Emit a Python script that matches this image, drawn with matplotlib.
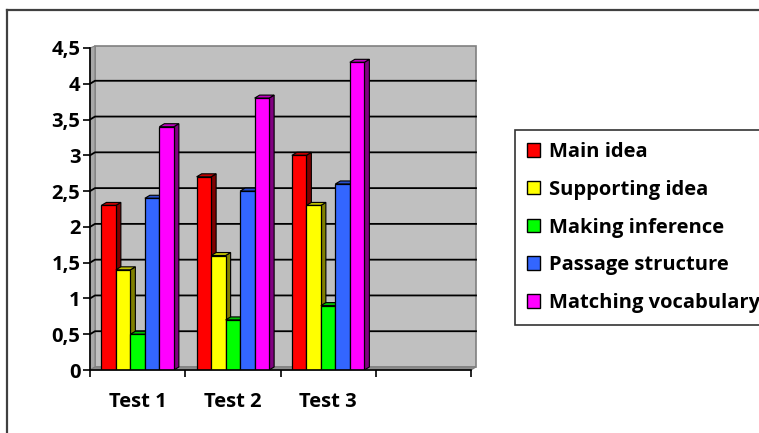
import matplotlib
matplotlib.use("Agg")
import matplotlib.pyplot as plt
from matplotlib.patches import Polygon, Rectangle, Patch
from matplotlib.lines import Line2D
import numpy as np

categories = ["Test 1", "Test 2", "Test 3"]
series_names = ["Main idea", "Supporting idea", "Making inference",
                "Passage structure", "Matching vocabulary"]
main_idea = [2.3, 2.7, 3.0]
supporting_idea = [1.4, 1.6, 2.3]
making_inference = [0.5, 0.7, 0.9]
passage_structure = [2.4, 2.5, 2.6]
matching_vocabulary = [3.4, 3.8, 4.3]
y_ticks = [0, 0.5, 1, 1.5, 2, 2.5, 3, 3.5, 4, 4.5]
y_tick_labels = ["0", "0,5", "1", "1,5", "2", "2,5", "3", "3,5", "4", "4,5"]

series = [main_idea, supporting_idea, making_inference, passage_structure, matching_vocabulary]
front_colors = ["#FF0000", "#FFFF00", "#00FF00", "#3366FF", "#FF00FF"]
side_colors = ["#800000", "#808000", "#008000", "#1F3D99", "#800080"]
top_colors = ["#C00000", "#C0C000", "#00C000", "#2850CC", "#C000C0"]

W, H = 759, 433
fig = plt.figure(figsize=(W / 100, H / 100), dpi=100)
plt.rcParams['font.family'] = ['Open Sans', 'DejaVu Sans']
FS = 14.5

# outer frame (partially visible)
fig.add_artist(Line2D([7 / W, 7 / W], [0, 1 - 10 / H], transform=fig.transFigure,
                      color="#404040", lw=1.6))
fig.add_artist(Line2D([7 / W, 1.0], [1 - 10 / H, 1 - 10 / H], transform=fig.transFigure,
                      color="#404040", lw=1.6))

left, right, bottom, top = 90, 471, 370, 48
ax = fig.add_axes([left / W, (H - bottom) / H, (right - left) / W, (bottom - top) / H])
ax.set_xlim(0, 4)
ax.set_ylim(0, 4.5)
ax.set_facecolor("none")

px_x = 4 / (right - left)
px_y = 4.5 / (bottom - top)
dx, dy = 5 * px_x, 3 * px_y

# walls
ax.add_patch(Rectangle((dx, dy), 4, 4.5 - dy + 2 * px_y, facecolor="#C0C0C0", edgecolor="#808080",
                       lw=1.2, zorder=0, clip_on=False))
ax.add_patch(Polygon([(0, 0), (dx, dy), (dx, 4.5 + 2 * px_y), (0, 4.5)], closed=True,
                     facecolor="#A8A8A8", edgecolor="#808080", lw=0.8, zorder=0, clip_on=False))
ax.add_patch(Polygon([(0, 0), (4, 0), (4 + dx, dy), (dx, dy)], closed=True,
                     facecolor="#8C8C8C", edgecolor="#808080", lw=0.8, zorder=0.5, clip_on=False))

for yv in y_ticks[1:-1]:
    ax.plot([0, dx, 4 + dx], [yv, yv + dy, yv + dy], color="black", lw=1.3, zorder=1,
            clip_on=False)

n = len(series)
bar_w = 14.5 * px_x
group_w = n * bar_w
x_idx = np.arange(len(categories))
for gi in x_idx:
    start = gi + 0.5 - group_w / 2
    for si in range(n):
        v = series[si][gi]
        x0 = start + si * bar_w
        x1 = x0 + bar_w
        z = 2 + gi * 10 + si
        ax.add_patch(Polygon([(x1, 0), (x1 + dx, dy), (x1 + dx, v + dy), (x1, v)], closed=True,
                             facecolor=side_colors[si], edgecolor="black", lw=0.8, zorder=z))
        ax.add_patch(Polygon([(x0, v), (x0 + dx, v + dy), (x1 + dx, v + dy), (x1, v)], closed=True,
                             facecolor=top_colors[si], edgecolor="black", lw=0.8, zorder=z))
        ax.bar(x0, v, width=bar_w, align="edge", color=front_colors[si],
               edgecolor="black", lw=0.9, zorder=z + 0.5)

for s in ["top", "right"]:
    ax.spines[s].set_visible(False)
ax.spines["left"].set_color("black")
ax.spines["bottom"].set_color("black")
ax.spines["left"].set_linewidth(1.2)
ax.spines["bottom"].set_linewidth(1.2)
ax.spines["left"].set_zorder(50)
ax.spines["bottom"].set_zorder(50)

ax.set_yticks(y_ticks)
ax.set_yticklabels(y_tick_labels, fontsize=FS, fontweight="bold")
ax.tick_params(axis="y", direction="out", length=5, width=1.2, pad=2)
ax.set_xticks([0, 1, 2, 3, 4])
ax.set_xticklabels([])
ax.tick_params(axis="x", which="major", direction="out", length=5, width=1.2)
ax.set_xticks(x_idx + 0.5, minor=True)
ax.set_xticklabels(categories, minor=True, fontsize=FS, fontweight="bold")
ax.tick_params(axis="x", which="minor", length=0, pad=16)

handles = [Patch(facecolor=c, edgecolor="black", lw=1.0) for c in front_colors]
leg = fig.legend(handles, series_names, loc="upper left",
                 bbox_to_anchor=(515 / W, 1 - 130 / H), bbox_transform=fig.transFigure,
                 frameon=True, fancybox=False, edgecolor="black",
                 prop={"size": FS, "weight": "bold"},
                 handlelength=0.65, handleheight=0.65, handletextpad=0.45,
                 labelspacing=0.88, borderpad=0.6, borderaxespad=0)
leg.get_frame().set_linewidth(1.2)

fig.savefig("out.png", dpi=100)
